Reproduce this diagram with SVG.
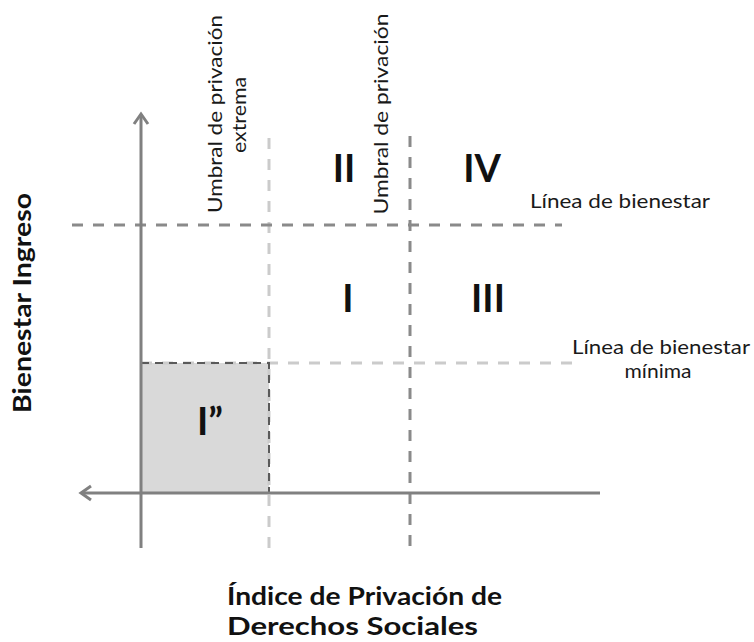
<svg xmlns="http://www.w3.org/2000/svg" width="754" height="642" viewBox="0 0 754 642">
<style>
  .lbl { font-family: Lato, "Open Sans", "Liberation Sans", sans-serif; font-size: 19px; fill: #1a1a1a; }
  .num { font-family: Lato, "Open Sans", "Liberation Sans", sans-serif; font-size: 38px; font-weight: bold; fill: #111; }
  .ttl { font-family: Lato, "Open Sans", "Liberation Sans", sans-serif; font-size: 24.5px; font-weight: bold; fill: #111; }
  .axis { stroke: #808080; stroke-width: 3; fill: none; }
  .dark { stroke: #8a8a8a; stroke-width: 3; stroke-dasharray: 11 10; fill: none; }
  .light { stroke: #cbcbcb; stroke-width: 3; stroke-dasharray: 11 10; fill: none; }
</style>
<defs>
  <marker id="arr" markerUnits="userSpaceOnUse" markerWidth="16" markerHeight="20" refX="12" refY="9" orient="auto">
    <path d="M2,2 L12,9 L2,16" fill="none" stroke="#808080" stroke-width="3"/>
  </marker>
</defs>
<rect width="754" height="642" fill="#ffffff"/>

<g id="region-Ipp">
  <rect x="141" y="363" width="128" height="130" fill="#d9d9d9"/>
</g>

<g id="connectors">
  <line class="light" x1="141" y1="363" x2="572" y2="363"/>
  <line class="light" x1="269" y1="138" x2="269" y2="556"/>
  <line class="dark" x1="72" y1="225" x2="562" y2="225"/>
  <line class="dark" x1="410" y1="136" x2="410" y2="556"/>
  <path d="M141,363 H269 V493" fill="none" stroke="#5a5a5a" stroke-width="2" stroke-dasharray="8 6"/>
  <line class="axis" x1="141" y1="548" x2="141" y2="114" marker-end="url(#arr)"/>
  <line class="axis" x1="600" y1="493" x2="81" y2="493" marker-end="url(#arr)"/>
</g>

<g id="label-II"><text class="num" x="344" y="182" text-anchor="middle">II</text></g>
<g id="label-IV"><text class="num" x="482" y="182" text-anchor="middle">IV</text></g>
<g id="label-I"><text class="num" x="348" y="312" text-anchor="middle">I</text></g>
<g id="label-III"><text class="num" x="488" y="312" text-anchor="middle">III</text></g>
<g id="label-Ipp"><text class="num" x="197" y="435">I”</text></g>

<g id="umbral-extrema">
  <text class="lbl" transform="translate(222,114) rotate(-90)" text-anchor="middle" textLength="198" lengthAdjust="spacingAndGlyphs">Umbral de privación</text>
  <text class="lbl" transform="translate(246,115) rotate(-90)" text-anchor="middle" textLength="76" lengthAdjust="spacingAndGlyphs">extrema</text>
</g>
<g id="umbral">
  <text class="lbl" transform="translate(388,114) rotate(-90)" text-anchor="middle" textLength="201" lengthAdjust="spacingAndGlyphs">Umbral de privación</text>
</g>
<g id="linea-bienestar">
  <text class="lbl" x="530" y="208" textLength="180" lengthAdjust="spacingAndGlyphs">Línea de bienestar</text>
</g>
<g id="linea-bienestar-minima">
  <text class="lbl" x="661" y="354" text-anchor="middle" textLength="178" lengthAdjust="spacingAndGlyphs">Línea de bienestar</text>
  <text class="lbl" x="658" y="378" text-anchor="middle" textLength="67" lengthAdjust="spacingAndGlyphs">mínima</text>
</g>
<g id="axis-y-title">
  <text class="ttl" transform="translate(31,303) rotate(-90)" text-anchor="middle" textLength="220" lengthAdjust="spacingAndGlyphs">Bienestar Ingreso</text>
</g>
<g id="axis-x-title">
  <text class="ttl" x="227" y="605" textLength="275" lengthAdjust="spacingAndGlyphs">Índice de Privación de</text>
  <text class="ttl" x="227" y="635" textLength="251" lengthAdjust="spacingAndGlyphs">Derechos Sociales</text>
</g>
</svg>
